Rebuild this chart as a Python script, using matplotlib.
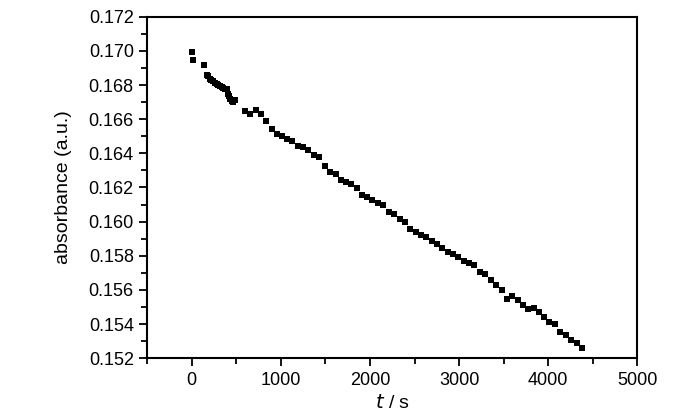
import matplotlib
matplotlib.use("Agg")
import matplotlib.pyplot as plt
from matplotlib.ticker import MultipleLocator, FormatStrFormatter

plt.rcParams['font.family'] = ['Liberation Sans', 'DejaVu Sans']

# time (s) and absorbance (a.u.)
t = [0, 11, 141, 169, 185, 205, 222, 242, 262, 281, 300, 317, 336, 354, 372,
     393, 411, 420, 430, 448, 466, 486, 598, 654, 721, 774, 834, 897, 953,
     1010, 1073, 1129, 1189, 1252, 1308, 1372, 1431, 1495, 1552, 1618, 1675,
     1730, 1787, 1850, 1914, 1970, 2026, 2094, 2149, 2213, 2269, 2336, 2393,
     2449, 2513, 2572, 2628, 2692, 2755, 2810, 2871, 2928, 2990, 3055, 3110,
     3167, 3233, 3290, 3354, 3413, 3477, 3533, 3596, 3656, 3713, 3776, 3843,
     3896, 3955, 4011, 4075, 4131, 4194, 4254, 4318, 4381]
absorb = [0.16994, 0.16947, 0.16915, 0.16861, 0.16850, 0.16837, 0.16830,
          0.16821, 0.16812, 0.16808, 0.16800, 0.16794, 0.16788, 0.16782,
          0.16778, 0.16774, 0.16749, 0.16735, 0.16720, 0.16708, 0.16700,
          0.16714, 0.16645, 0.16631, 0.16651, 0.16631, 0.16590, 0.16543,
          0.16514, 0.16500, 0.16484, 0.16471, 0.16445, 0.16435, 0.16421,
          0.16392, 0.16376, 0.16327, 0.16292, 0.16278, 0.16245, 0.16235,
          0.16221, 0.16195, 0.16155, 0.16143, 0.16127, 0.16108, 0.16096,
          0.16056, 0.16043, 0.16018, 0.16000, 0.15955, 0.15939, 0.15924,
          0.15910, 0.15886, 0.15872, 0.15845, 0.15821, 0.15808, 0.15792,
          0.15772, 0.15759, 0.15745, 0.15706, 0.15694, 0.15657, 0.15631,
          0.15598, 0.15549, 0.15562, 0.15539, 0.15514, 0.15488, 0.15494,
          0.15471, 0.15439, 0.15410, 0.15400, 0.15353, 0.15337, 0.15308,
          0.15292, 0.15259]

fig = plt.figure(figsize=(7, 4.15), dpi=100)
ax = fig.add_axes([0.21, 0.1366, 0.7006, 0.8232])

ax.plot(t, absorb, 's', color='black', markersize=3.8, markeredgewidth=0)

ax.set_xlim(-500, 5000)
ax.set_ylim(0.152, 0.172)
ax.xaxis.set_major_locator(MultipleLocator(1000))
ax.xaxis.set_minor_locator(MultipleLocator(500))
ax.yaxis.set_major_locator(MultipleLocator(0.002))
ax.yaxis.set_minor_locator(MultipleLocator(0.001))
ax.yaxis.set_major_formatter(FormatStrFormatter('%.3f'))

ax.tick_params(which='both', direction='out', top=False, right=False,
               width=1.3, labelsize=13)
ax.tick_params(which='major', length=6)
ax.tick_params(which='minor', length=4)
for s in ax.spines.values():
    s.set_linewidth(1.5)

ax.set_xlabel(r'$\it{t}$ / s', fontsize=14, labelpad=4)
ax.set_ylabel('absorbance (a.u.)', fontsize=14, labelpad=12)

fig.savefig('out.png', dpi=100)
